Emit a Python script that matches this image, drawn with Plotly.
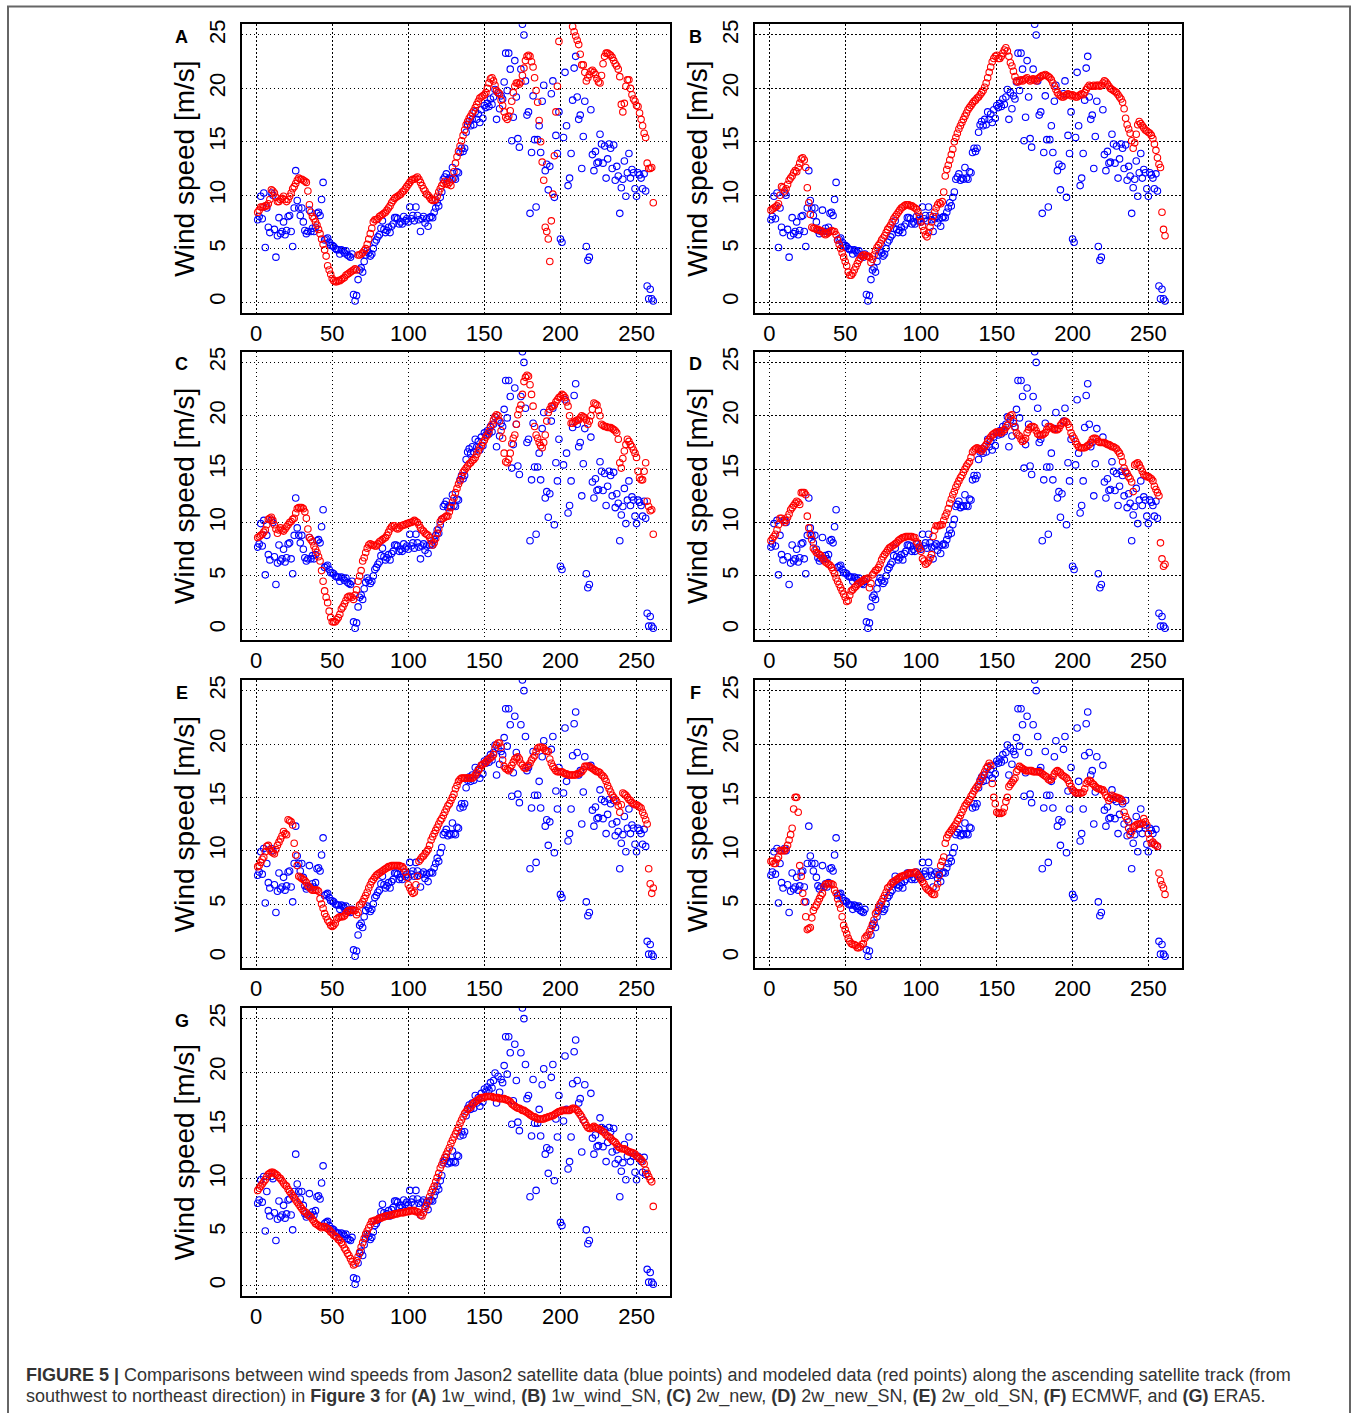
import plotly.graph_objects as go

# ---------------- data ----------------
panel_letters = ["A", "B", "C", "D", "E", "F", "G"]
y_title = "Wind speed [m/s]"
x_ticks = [0, 50, 100, 150, 200, 250]
y_ticks = [0, 5, 10, 15, 20, 25]

jason2 = [
    7.7, 8.0, 9.9, 7.8, 10.2, 5.1, 8.8, 7.0, 6.5, 10.2,
    10.0, 6.8, 4.2, 6.2, 7.9, 6.4, 6.6, 7.5, 6.3, 6.7,
    8.0, 8.1, 6.6, 5.2, 8.8, 12.3, 9.5, 8.8, 8.1, 8.8,
    7.5, 6.7, 6.4, 6.6, 8.6, 6.6, 6.9, 6.6, 7.0, 8.3,
    8.4, 8.1, 9.6, 11.2, 5.8, 5.9, 6.0, 5.6, 5.3, 5.3,
    5.2, 5.0, 4.9, 4.9, 4.5, 4.9, 4.8, 4.6, 4.8, 4.4,
    4.3, 4.2, 4.5, 0.7, 0.1, 0.6, 2.1, 3.0, 3.2, 2.8,
    3.8, 4.4, 4.8, 4.6, 4.3, 4.5, 5.0, 5.6, 5.8, 6.1,
    6.3, 6.9, 7.6, 6.8, 6.5, 6.7, 7.0, 6.5, 7.1, 7.3,
    7.9, 7.9, 7.8, 7.3, 7.5, 7.3, 8.0, 7.6, 7.8, 7.5,
    8.9, 7.8, 8.1, 7.6, 8.9, 8.1, 7.7, 6.6, 7.8, 8.0,
    7.4, 7.8, 7.1, 7.9, 8.0, 7.9, 8.4, 8.8, 9.3, 9.0,
    9.8, 10.3, 11.5, 11.7, 12.0, 11.4, 11.6, 11.5, 12.6, 11.6,
    11.5, 12.2, 12.1, 14.0, 14.4, 14.1, 14.4, 15.9, 16.6, 16.9,
    16.5, 17.1, 16.6, 17.8, 17.1, 17.6, 16.8, 18.0, 17.2, 18.4,
    18.2, 18.6, 18.3, 19.0, 18.5, 19.2, 19.9, 17.1, 19.6, 18.1,
    19.3, 19.0, 20.6, 23.3, 19.8, 23.3, 21.8, 15.1, 17.3, 22.6,
    19.2, 15.3, 14.5, 21.8, 26.0, 25.0, 20.7, 17.5, 17.8, 8.3,
    14.0, 19.3, 15.2, 8.9, 15.2, 16.5, 14.0, 18.8, 20.3, 12.3,
    12.9, 10.5, 12.7, 19.5, 20.7, 9.8, 15.6, 13.9, 17.8, 5.9,
    5.6, 15.4, 21.5, 16.5, 10.9, 11.6, 13.9, 18.9, 21.9, 23.0,
    19.2, 17.1, 17.5, 12.5, 15.5, 18.8, 5.2, 3.9, 4.2, 18.0,
    13.8, 12.3, 14.1, 13.0, 13.1, 15.7, 14.8, 13.0, 14.6, 11.6,
    13.4, 14.8, 14.4, 12.5, 14.7, 11.4, 12.7, 11.8, 8.3, 10.7,
    11.5, 13.2, 9.9, 12.1, 13.9, 11.6, 12.4, 12.1, 10.6, 9.9,
    12.1, 11.9, 11.6, 10.6, 12.0, 10.4, 1.5, 0.3, 1.2, 0.3,
    0.1,
]

model_1w_wind = [
    8.4, 8.6, 8.9, 8.9, 8.9, 9.0, 9.0, 9.2, 9.6, 10.5, 10.4, 10.2,
    9.8, 9.4, 9.4, 9.6, 9.7, 9.9, 9.6, 9.4, 9.6, 9.9, 10.2, 10.6, 10.8,
    11.1, 11.4, 11.6, 11.5, 11.5, 11.4, 11.3, 11.2,
    10.4, 9.1, 8.4, 8.0, 7.8, 7.5, 7.2, 6.8, 6.4, 5.9, 5.4, 4.9, 4.3, 3.4, 3.0, 2.6,
    2.2, 2.0, 1.9, 1.9, 2.0, 2.0, 2.1, 2.2, 2.3, 2.5, 2.6, 2.7, 2.8, 2.9, 3.0, 3.1, 3.0,
    4.4, 4.4, 4.5, 4.6, 4.8, 5.0, 5.4, 5.9, 6.4, 6.9, 7.5, 7.7, 7.7, 7.8, 8.0, 8.1, 8.2, 8.3, 8.4, 8.6, 8.8,
    9.0, 9.3, 9.5, 9.7, 9.8, 9.9, 10.0, 10.1, 10.3, 10.4, 10.6, 10.8, 11.0, 11.2, 11.4, 11.5, 11.5, 11.6, 11.7, 11.5, 11.2, 10.9, 10.6,
    10.4, 10.1, 10.0, 9.8, 9.6, 9.5, 9.5, 9.6, 9.9, 10.3, 10.6, 10.9, 11.1, 11.3, 11.1, 11.0, 11.2, 10.9, 11.5, 12.2, 13.0, 13.6, 14.1, 14.6, 15.1,
    15.6, 16.1, 16.6, 16.9, 17.2, 17.4, 17.7, 17.9, 18.2, 18.5, 18.8, 19.1, 19.2, 19.3, 19.4, 19.6, 20.0, 20.5, 20.9, 21.0, 20.7, 20.3, 19.8, 19.6, 19.5,
    18.9, 18.4, 17.8, 17.3, 17.1, 17.4, 17.9, 18.8, 19.6, 20.2, 20.5, 20.5, 20.4, 20.6, 21.2, 21.9, 22.6, 23.0, 23.1, 23.0,
    22.5, 22.0, 21.0, 19.8, 18.7, 17.0, 15.0, 13.1, 11.4, 7.0, 6.6, 5.9, 3.8, 7.6, 10.1, 13.7, 17.8, 20.2, 24.4,
    26.5, 27.5, 28.0, 28.5, 28.5, 28.0, 27.5, 26.6, 25.8,
    25.3, 24.9, 24.5, 24.1, 23.2, 22.2, 22.2, 21.5, 20.7, 21.0, 21.3, 21.6, 21.7, 21.5, 21.3, 20.9,
    20.6, 20.5, 21.2, 22.3, 23.0, 23.3, 23.3, 23.2, 23.1, 22.9, 22.6, 22.3, 22.1, 21.8, 21.1,
    18.5, 17.8, 18.6, 20.2, 20.8, 20.8, 20.0, 19.4, 19.0, 18.8, 18.4, 18.3, 17.7, 17.1, 16.5, 15.8, 15.4, 13.0, 12.5, 12.5, 12.6, 9.3,
]

model_1w_wind_SN = [
    8.6, 8.7, 8.8, 8.9, 9.0, 9.2, 10.0, 10.8, 10.7, 10.4,
    10.6, 11.0, 11.4, 11.6, 11.8, 12.1, 12.3, 12.2, 12.6, 13.0, 13.4, 13.5,
    13.3, 12.6, 10.7, 9.3, 8.2, 7.0,
    6.9, 6.9, 6.8, 6.8, 6.7, 6.7, 6.6, 6.4, 6.3, 6.4, 6.5, 6.6, 6.7, 6.6, 6.6, 6.3,
    5.8, 5.4, 5.0, 4.6, 4.2, 3.8, 3.4, 2.8, 2.5,
    2.5, 2.7, 3.0, 3.3, 3.6, 3.9, 4.1, 4.3, 4.4,
    4.4, 4.3, 4.3, 4.2, 3.7, 4.0, 4.4, 4.8,
    5.1, 5.3, 5.5, 5.8, 6.0, 6.2, 6.5, 6.8, 7.0, 7.2, 7.5, 7.8, 8.0, 8.2, 8.4, 8.6, 8.8, 8.9, 9.0, 9.1, 9.1,
    9.1, 9.0, 9.0, 8.9, 8.8, 8.7, 8.4, 8.0, 7.5, 7.1,
    6.7, 6.3, 6.1, 6.5, 7.0, 7.5, 8.0, 8.4, 8.8, 9.1, 9.3, 9.2, 9.4, 10.3, 11.8,
    12.4, 12.8, 13.3, 13.8, 14.3, 15.0, 15.4, 15.8, 16.2, 16.5, 16.8, 17.1, 17.4, 17.7,
    18.0, 18.2, 18.4, 18.6, 18.8, 18.9, 19.1, 19.2, 19.4, 19.6, 19.8, 20.1, 20.5, 21.0, 21.5,
    22.0, 22.5, 22.8, 23.0, 23.1, 22.8, 22.8, 23.0, 23.3, 23.6, 23.8, 23.5, 23.0, 22.4, 22.1, 21.6, 21.1, 20.7,
    20.6, 20.7, 20.8, 20.7, 20.8, 20.9, 21.0, 20.8, 20.7, 20.8, 20.9, 20.8, 20.7, 20.9,
    21.0, 21.1, 21.2, 21.2, 21.3, 21.2, 21.1, 21.0, 20.8, 20.5, 20.2, 19.9, 19.6,
    19.4, 19.3, 19.2, 19.2, 19.3, 19.4, 19.5, 19.4, 19.3, 19.4, 19.3, 19.2, 19.2, 19.3, 19.4, 19.5, 19.4, 19.6, 19.9, 20.1,
    20.3, 20.2, 20.2, 20.3, 20.2, 20.3, 20.3, 20.2, 20.3, 20.5, 20.7, 20.6, 20.4, 20.2, 20.0, 19.9, 19.8, 19.7, 19.6, 19.4,
    19.2, 19.0, 18.7, 18.1, 17.2, 16.6, 16.2, 15.8, 15.1, 14.4, 14.9, 15.7, 16.6, 16.9, 16.7,
    16.5, 16.3, 16.1, 16.0, 15.9, 15.8, 15.6, 15.3, 14.8, 14.2, 13.5, 12.9, 12.6, 8.4, 6.8, 6.2,
]

model_2w_new = [
    8.6, 8.7, 8.8, 8.9, 9.1, 9.3, 9.8, 10.3, 10.4, 10.5,
    10.2, 9.8, 9.4, 9.0, 9.3, 9.5, 9.3, 9.2, 9.4, 9.6,
    9.8, 10.0, 10.1, 10.3, 10.4, 10.9, 11.3, 11.4, 11.4, 11.4,
    11.3, 11.0, 10.4, 9.4, 8.6, 8.4, 8.2, 7.8, 7.5, 7.2,
    6.8, 6.4, 5.5, 4.5, 3.6, 3.0, 2.5, 1.7, 1.1, 0.7,
    0.7, 0.7, 0.9, 1.1, 1.4, 1.9, 2.1, 2.4, 2.7, 3.0,
    3.1, 3.1, 3.0, 2.8, 3.2, 3.7, 4.5, 5.0, 5.5, 6.4,
    6.7, 7.2, 7.6, 7.9, 8.0, 7.9, 7.9, 7.8, 7.8, 8.0,
    8.2, 8.3, 8.4, 8.5, 8.6, 8.8, 9.1, 9.4, 9.6, 9.7,
    9.7, 9.5, 9.4, 9.5, 9.7, 9.7, 9.8, 9.8, 9.9, 9.9,
    10.0, 10.0, 10.1, 10.2, 10.1, 10.0, 9.8, 9.5, 9.3, 9.2,
    9.0, 8.9, 8.8, 8.6, 8.3, 7.9, 8.1, 8.5, 9.0, 9.4,
    10.1, 10.3, 10.4, 10.5, 10.6, 10.6, 11.0, 11.4, 11.9, 12.3,
    12.8, 13.2, 13.6, 13.9, 14.3, 14.7, 14.9, 15.1, 15.3, 15.5,
    15.6, 15.8, 15.9, 16.1, 16.4, 16.7, 17.0, 17.2, 17.5, 17.7,
    18.0, 18.2, 18.5, 18.9, 19.2, 19.6, 19.9, 20.1, 20.0, 19.5,
    18.6, 17.9, 16.5, 15.7, 15.6, 15.9, 16.5, 17.4, 17.9, 18.2,
    19.2, 20.1, 20.6, 21.0, 22.0, 23.2, 23.6, 23.8, 23.7, 22.9,
    22.0, 20.9, 19.0, 18.2, 17.9, 17.5, 17.2, 17.0, 17.5, 18.2,
    19.5, 20.3, 20.6, 20.9, 20.9, 21.0, 21.3, 21.5, 21.7, 21.8,
    22.0, 21.9, 21.7, 21.3, 20.9, 20.0, 19.3, 19.3, 19.4, 19.5,
    19.6, 19.6, 19.8, 20.0, 19.9, 19.8, 19.6, 19.2, 19.5, 20.0,
    20.6, 21.2, 21.1, 21.0, 20.5, 20.0, 19.2, 19.1, 19.0, 19.0,
    18.9, 18.9, 18.9, 18.8, 18.7, 18.6, 18.4, 17.8, 15.6, 15.1,
    16.0, 16.7, 17.3, 17.8, 17.6, 17.3, 17.1, 16.8, 16.5, 16.1,
    14.8, 14.2, 14.0, 14.0, 14.8, 15.6, 12.0, 11.5, 11.1, 11.2, 8.9,
]

model_2w_new_SN = [
    8.3, 8.5, 8.7, 8.9, 9.3, 9.8, 10.4, 10.4, 10.2, 10.0,
    10.2, 10.5, 10.8, 11.2, 11.4, 11.6, 11.8, 12.0, 11.9, 11.7,
    12.8, 12.8, 12.8, 12.6, 10.6, 9.5, 8.9, 8.4, 7.6, 7.4,
    7.2, 7.1, 7.0, 6.9, 6.7, 6.5, 6.3, 6.2, 6.1, 6.0,
    5.8, 5.5, 5.2, 4.8, 4.5, 4.2, 3.9, 3.6, 3.3, 3.0,
    2.6, 2.7, 3.2, 3.6, 3.7, 3.9, 4.0, 4.2, 4.3, 4.4,
    4.5, 4.6, 4.7, 4.7, 4.8, 3.9, 4.3, 5.1, 5.3, 5.5,
    5.6, 5.8, 6.1, 6.5, 6.8, 7.0, 7.2, 7.4, 7.6, 7.7,
    7.8, 7.9, 8.0, 8.1, 8.3, 8.4, 8.5, 8.6, 8.6, 8.7,
    8.7, 8.7, 8.7, 8.7, 8.6, 8.6, 8.2, 8.0, 7.6, 7.3,
    6.6, 6.4, 6.1, 6.2, 6.4, 6.7, 7.0, 8.7, 9.3, 9.7,
    9.7, 9.7, 9.8, 9.8, 10.2, 10.6, 10.9, 11.3, 11.8, 12.2,
    12.6, 12.9, 13.3, 13.6, 13.9, 14.2, 14.4, 14.7, 15.0, 15.3,
    15.5, 15.7, 16.1, 16.6, 16.8, 16.9, 17.0, 16.9, 16.8, 16.7,
    16.9, 17.1, 17.3, 17.6, 17.8, 18.0, 18.2, 18.3, 18.4, 18.5,
    18.5, 18.4, 18.4, 18.6, 18.7, 18.9, 19.1, 19.8, 20.0, 20.1,
    19.5, 18.9, 18.4, 18.2, 18.1, 17.8, 17.6, 17.7, 17.9, 18.4,
    18.7, 18.9, 19.0, 19.0, 18.9, 18.6, 18.3, 18.2, 18.2, 18.2,
    18.3, 18.4, 18.7, 19.0, 19.0, 18.9, 18.8, 18.7, 18.7, 18.7,
    18.8, 19.1, 19.3, 19.4, 19.5, 19.4, 19.2, 18.9, 18.4, 18.1,
    17.9, 17.6, 17.3, 17.1, 17.0, 17.0, 17.0, 17.0, 17.1, 17.2,
    17.3, 17.5, 17.8, 17.9, 17.9, 17.8, 17.6, 17.5, 17.5, 17.5,
    17.5, 17.4, 17.3, 17.3, 17.2, 17.1, 17.1, 17.0, 16.9, 16.7,
    16.5, 16.2, 15.7, 15.1, 14.8, 14.6, 14.3, 14.1, 13.8, 12.9,
    15.4, 15.5, 15.6, 15.4, 15.1, 14.8, 14.5, 14.4, 14.3, 14.3,
    14.2, 14.1, 13.9, 13.4, 13.1, 12.8, 12.5, 8.1, 6.6, 5.9, 6.1,
]

model_2w_old_SN = [
    8.5, 8.6, 8.9, 9.2, 9.4, 9.9, 10.4, 10.5, 10.1, 9.9,
    9.8, 9.7, 10.1, 10.5, 10.8, 11.1, 11.4, 11.8, 11.6, 11.5,
    12.9, 12.8, 12.7, 12.4, 10.7, 9.6, 8.6, 7.6, 7.5, 7.4,
    7.3, 7.2, 7.0, 6.7, 6.6, 6.4, 6.3, 6.3, 6.3, 6.3,
    6.2, 5.5, 5.0, 4.6, 4.1, 3.8, 3.5, 3.3, 3.0, 2.9,
    3.0, 3.2, 3.6, 3.7, 3.8, 3.8, 3.8, 3.9, 4.1, 4.3,
    4.4, 4.4, 4.4, 4.4, 4.4, 4.0, 4.2, 4.9, 5.0, 5.2,
    5.5, 5.8, 6.1, 6.5, 6.8, 7.1, 7.3, 7.5, 7.7, 7.8,
    7.9, 8.0, 8.1, 8.2, 8.3, 8.4, 8.5, 8.5, 8.6, 8.6,
    8.6, 8.6, 8.6, 8.6, 8.5, 8.5, 8.3, 8.0, 7.5, 6.8,
    6.5, 6.2, 6.0, 6.1, 6.8, 7.6, 9.0, 9.2, 9.4, 9.5,
    9.7, 9.9, 10.1, 10.5, 11.0, 11.3, 11.6, 11.9, 12.2, 12.5,
    12.8, 13.0, 13.3, 13.6, 13.9, 14.2, 14.4, 14.7, 15.0, 15.3,
    15.8, 16.1, 16.5, 16.7, 16.8, 16.8, 16.8, 16.8, 16.8, 16.8,
    16.8, 16.8, 16.9, 17.1, 17.3, 17.5, 17.7, 18.0, 18.1, 18.2,
    18.3, 18.5, 18.6, 18.7, 18.8, 19.0, 19.6, 19.9, 20.1, 20.1,
    19.7, 18.5, 17.9, 17.7, 17.6, 17.5, 17.7, 18.0, 18.3, 18.6,
    18.7, 18.8, 18.6, 18.2, 18.0, 17.8, 17.7, 17.9, 18.0, 18.2,
    18.5, 18.7, 18.9, 19.3, 19.6, 19.7, 19.7, 19.7, 19.6, 19.4,
    19.3, 19.3, 18.6, 18.2, 17.9, 17.7, 17.5, 17.4, 17.4, 17.4,
    17.4, 17.3, 17.2, 17.2, 17.1, 17.1, 17.1, 17.1, 17.1, 17.1,
    17.2, 17.2, 17.3, 17.4, 17.6, 17.9, 17.9, 17.9, 17.9, 17.8,
    17.7, 17.6, 17.5, 17.4, 17.4, 17.3, 17.1, 17.0, 16.8, 16.5,
    16.1, 15.8, 15.5, 15.2, 15.0, 14.8, 14.6, 14.2, 13.6, 14.3,
    15.4, 15.3, 15.2, 15.0, 14.8, 14.7, 14.5, 14.4, 14.3, 14.3,
    14.2, 14.1, 14.0, 13.6, 13.3, 12.9, 12.5, 8.3, 6.9, 6.0, 6.5,
]

model_ECMWF = [
    9.0, 9.0, 8.8, 8.8, 9.2, 9.4, 10.0, 10.0, 10.0, 10.0,
    10.2, 10.5, 11.0, 11.5, 12.1, 13.9, 15.0, 15.0, 13.6, 8.6,
    7.6, 6.0, 5.2, 3.8, 2.6, 2.7, 2.8, 3.7, 4.4, 4.7,
    4.9, 5.2, 5.5, 5.8, 6.0, 6.6, 6.8, 6.9, 6.9, 6.9,
    6.9, 6.8, 6.3, 6.0, 5.5, 5.0, 4.6, 3.8, 3.0, 2.6,
    2.2, 1.8, 1.5, 1.3, 1.2, 1.2, 1.1, 0.9, 0.9, 1.0,
    1.2, 1.3, 1.8, 2.0, 2.1, 2.4, 2.7, 3.1, 3.5, 4.1,
    4.3, 4.7, 5.0, 5.2, 5.5, 5.8, 6.1, 6.5, 6.6, 6.8,
    7.0, 7.1, 7.2, 7.3, 7.4, 7.5, 7.6, 7.6, 7.7, 7.7,
    7.8, 7.9, 7.9, 7.9, 7.9, 8.0, 7.9, 7.7, 7.5, 7.3,
    7.1, 6.9, 6.6, 6.4, 6.3, 6.2, 6.0, 5.9, 5.9, 6.5,
    6.9, 7.7, 8.6, 9.0, 9.4, 10.7, 11.2, 11.5, 11.7, 11.9,
    12.1, 12.3, 12.5, 12.8, 13.0, 13.3, 13.6, 13.9, 14.2, 14.4,
    14.6, 14.8, 15.1, 15.3, 15.6, 15.8, 16.0, 16.2, 16.5, 16.8,
    17.1, 17.4, 17.7, 17.9, 18.2, 18.0, 16.3, 15.0, 14.4, 13.6,
    13.5, 13.5, 13.5, 13.6, 14.0, 14.6, 15.0, 16.0, 16.2, 16.4,
    16.6, 16.8, 17.4, 17.6, 17.9, 17.8, 17.7, 17.6, 17.5, 17.5,
    17.5, 17.5, 17.5, 17.4, 17.4, 17.4, 17.4, 17.4, 17.3, 17.2,
    17.1, 17.0, 16.9, 16.7, 16.6, 16.7, 16.9, 17.2, 17.4, 17.5,
    17.4, 17.3, 17.1, 17.0, 16.9, 16.8, 16.6, 16.3, 16.0, 15.7,
    15.6, 15.4, 15.4, 15.4, 15.4, 15.4, 15.5, 15.8, 16.3, 16.5,
    16.6, 16.5, 16.3, 16.2, 16.0, 15.9, 15.8, 15.8, 15.7, 15.7,
    15.5, 15.2, 15.0, 14.7, 14.9, 15.2, 15.1, 15.0, 15.0, 14.9,
    14.9, 14.8, 14.6, 13.6, 13.2, 12.9, 12.1, 11.5, 11.8, 12.2,
    12.3, 12.4, 12.5, 12.5, 12.5, 12.6, 13.0, 12.7, 12.4, 11.6,
    11.1, 10.7, 10.8, 10.6, 10.5, 10.4, 7.9, 7.2, 6.8, 6.5, 5.9,
]

model_ERA5 = [
    8.9, 9.1, 9.3, 9.5, 9.7, 9.9, 10.2, 10.4, 10.5, 10.6,
    10.6, 10.5, 10.4, 10.3, 10.1, 10.0, 9.8, 9.6, 9.4, 9.3,
    9.0, 8.8, 8.6, 8.4, 8.2, 8.0, 7.8, 7.6, 7.4, 7.2,
    7.0, 6.9, 6.8, 6.6, 6.5, 6.4, 6.2, 6.0, 5.8, 5.7,
    5.6, 5.5, 5.4, 5.5, 5.5, 5.4, 5.3, 5.2, 5.0, 4.9,
    4.7, 4.6, 4.5, 4.3, 4.2, 4.0, 3.8, 3.5, 3.3, 3.0,
    2.8, 2.5, 2.2, 1.9, 2.0, 2.3, 2.7, 3.1, 3.6, 4.0,
    4.4, 4.8, 5.1, 5.4, 5.7, 6.0, 6.0, 6.1, 6.1, 6.2,
    6.3, 6.3, 6.4, 6.4, 6.5, 6.5, 6.5, 6.6, 6.6, 6.6,
    6.7, 6.7, 6.7, 6.8, 6.8, 6.8, 6.8, 6.9, 6.9, 6.9,
    7.0, 7.0, 7.0, 7.0, 6.9, 6.9, 6.8, 6.6, 6.5, 6.8,
    7.2, 7.5, 7.9, 8.3, 8.7, 9.0, 9.3, 9.7, 10.1, 10.5,
    11.0, 11.3, 11.7, 12.0, 12.3, 12.6, 12.9, 13.3, 13.6, 13.9,
    14.2, 14.5, 14.8, 15.2, 15.5, 15.8, 16.1, 16.3, 16.5, 16.6,
    16.7, 16.9, 17.1, 17.2, 17.3, 17.4, 17.5, 17.6, 17.6, 17.6,
    17.7, 17.7, 17.7, 17.7, 17.7, 17.6, 17.6, 17.6, 17.6, 17.5,
    17.5, 17.5, 17.5, 17.4, 17.4, 17.3, 17.2, 17.0, 16.9, 16.8,
    16.7, 16.6, 16.6, 16.5, 16.4, 16.4, 16.3, 16.2, 16.1, 16.0,
    15.9, 15.8, 15.8, 15.7, 15.6, 15.6, 15.6, 15.6, 15.6, 15.7,
    15.7, 15.8, 15.8, 15.9, 15.9, 16.0, 16.1, 16.2, 16.3, 16.3,
    16.4, 16.4, 16.4, 16.4, 16.4, 16.4, 16.5, 16.6, 16.6, 16.5,
    16.4, 16.2, 16.0, 15.8, 15.5, 15.3, 15.0, 14.8, 14.7, 14.7,
    14.8, 14.9, 14.8, 14.7, 14.7, 14.6, 14.5, 14.4, 14.3, 14.1,
    14.0, 13.9, 13.8, 13.6, 13.5, 13.4, 13.2, 13.0, 12.9, 12.8,
    12.8, 12.8, 12.7, 12.6, 12.5, 12.5, 12.4, 12.4, 12.3, 12.1,
    12.0, 11.9, 11.8, 11.6, 11.4, 10.8, 10.5, 10.2, 9.9, 9.7, 7.4,
]

models = [model_1w_wind, model_1w_wind_SN, model_2w_new, model_2w_new_SN,
          model_2w_old_SN, model_ECMWF, model_ERA5]

# ---------------- layout geometry (pixels) ----------------
W, H = 1360, 1413
col_x = [(241.7, 670.0), (755.0, 1181.7)]
row_y = [(24.3, 312.7), (351.7, 640.0), (680.0, 968.0), (1008.0, 1296.0)]

def fx(px):
    return px / W

def fy(py):
    return 1 - py / H

fig = go.Figure()
layout_axes = {}
annotations = []
FONT = "Liberation Sans, Arial, sans-serif"

for i, (letter, red) in enumerate(zip(panel_letters, models)):
    r, c = divmod(i, 2)
    xa = "x" if i == 0 else f"x{i+1}"
    ya = "y" if i == 0 else f"y{i+1}"
    x0, x1 = col_x[c]
    y0, y1 = row_y[r]

    fig.add_trace(go.Scatter(
        x=list(range(1, len(jason2) + 1)), y=jason2, mode="markers",
        xaxis=xa, yaxis=ya, showlegend=False,
        marker=dict(symbol="circle-open", size=6.5, color="#0000ff",
                    line=dict(width=1.1, color="#0000ff")),
    ))
    fig.add_trace(go.Scatter(
        x=list(range(1, len(red) + 1)), y=red, mode="markers",
        xaxis=xa, yaxis=ya, showlegend=False,
        marker=dict(symbol="circle-open", size=6.5, color="#ff0000",
                    line=dict(width=1.1, color="#ff0000")),
    ))

    common = dict(
        showgrid=True, gridcolor="black", griddash="1.5px,2.5px", gridwidth=1,
        showline=True, mirror=True, linecolor="black", linewidth=1.8,
        zeroline=False, ticks="", automargin=False,
        tickfont=dict(family=FONT, size=22, color="black"),
    )
    xkey = "xaxis" if i == 0 else f"xaxis{i+1}"
    ykey = "yaxis" if i == 0 else f"yaxis{i+1}"
    layout_axes[xkey] = dict(
        domain=[fx(x0), fx(x1)], anchor=ya, range=[-9.5, 272],
        tickmode="array", tickvals=x_ticks, ticktext=[str(v) for v in x_ticks],
        ticklabelstandoff=0, **common,
    )
    layout_axes[ykey] = dict(
        domain=[fy(y1), fy(y0)], anchor=xa, range=[-1, 26],
        tickmode="array", tickvals=y_ticks, ticktext=[str(v) for v in y_ticks],
        tickangle=-90, ticklabelstandoff=6,
        title=dict(text=y_title, font=dict(family=FONT, size=28, color="black"),
                   standoff=2),
        **common,
    )
    annotations.append(dict(
        text=f"<b>{letter}</b>", x=fx(x0 - 60), y=fy(y0 + 12.5),
        xref="paper", yref="paper", xanchor="center", yanchor="middle",
        showarrow=False, font=dict(family=FONT, size=18, color="black"),
    ))

caption_1 = ("<b>FIGURE 5 |</b> Comparisons between wind speeds from Jason2 satellite data "
             "(blue points) and modeled data (red points) along the ascending satellite track (from")
caption_2 = ("southwest to northeast direction) in <b>Figure 3</b> for <b>(A)</b> 1w_wind, "
             "<b>(B)</b> 1w_wind_SN, <b>(C)</b> 2w_new, <b>(D)</b> 2w_new_SN, "
             "<b>(E)</b> 2w_old_SN, <b>(F)</b> ECMWF, and <b>(G)</b> ERA5.")
for txt, py in [(caption_1, 1375), (caption_2, 1396)]:
    annotations.append(dict(
        text=txt, x=fx(24), y=fy(py), xref="paper", yref="paper",
        xanchor="left", yanchor="middle", showarrow=False,
        font=dict(family=FONT, size=18, color="#333333"),
    ))

fig.update_layout(
    width=W, height=H, margin=dict(l=0, r=0, t=0, b=0),
    paper_bgcolor="white", plot_bgcolor="white",
    annotations=annotations,
    shapes=[dict(type="rect", xref="paper", yref="paper",
                 x0=fx(8), x1=fx(1350), y0=-0.05, y1=fy(6.5),
                 line=dict(color="#666666", width=2), fillcolor="rgba(0,0,0,0)")],
    **layout_axes,
)

fig.write_html("out.html")
